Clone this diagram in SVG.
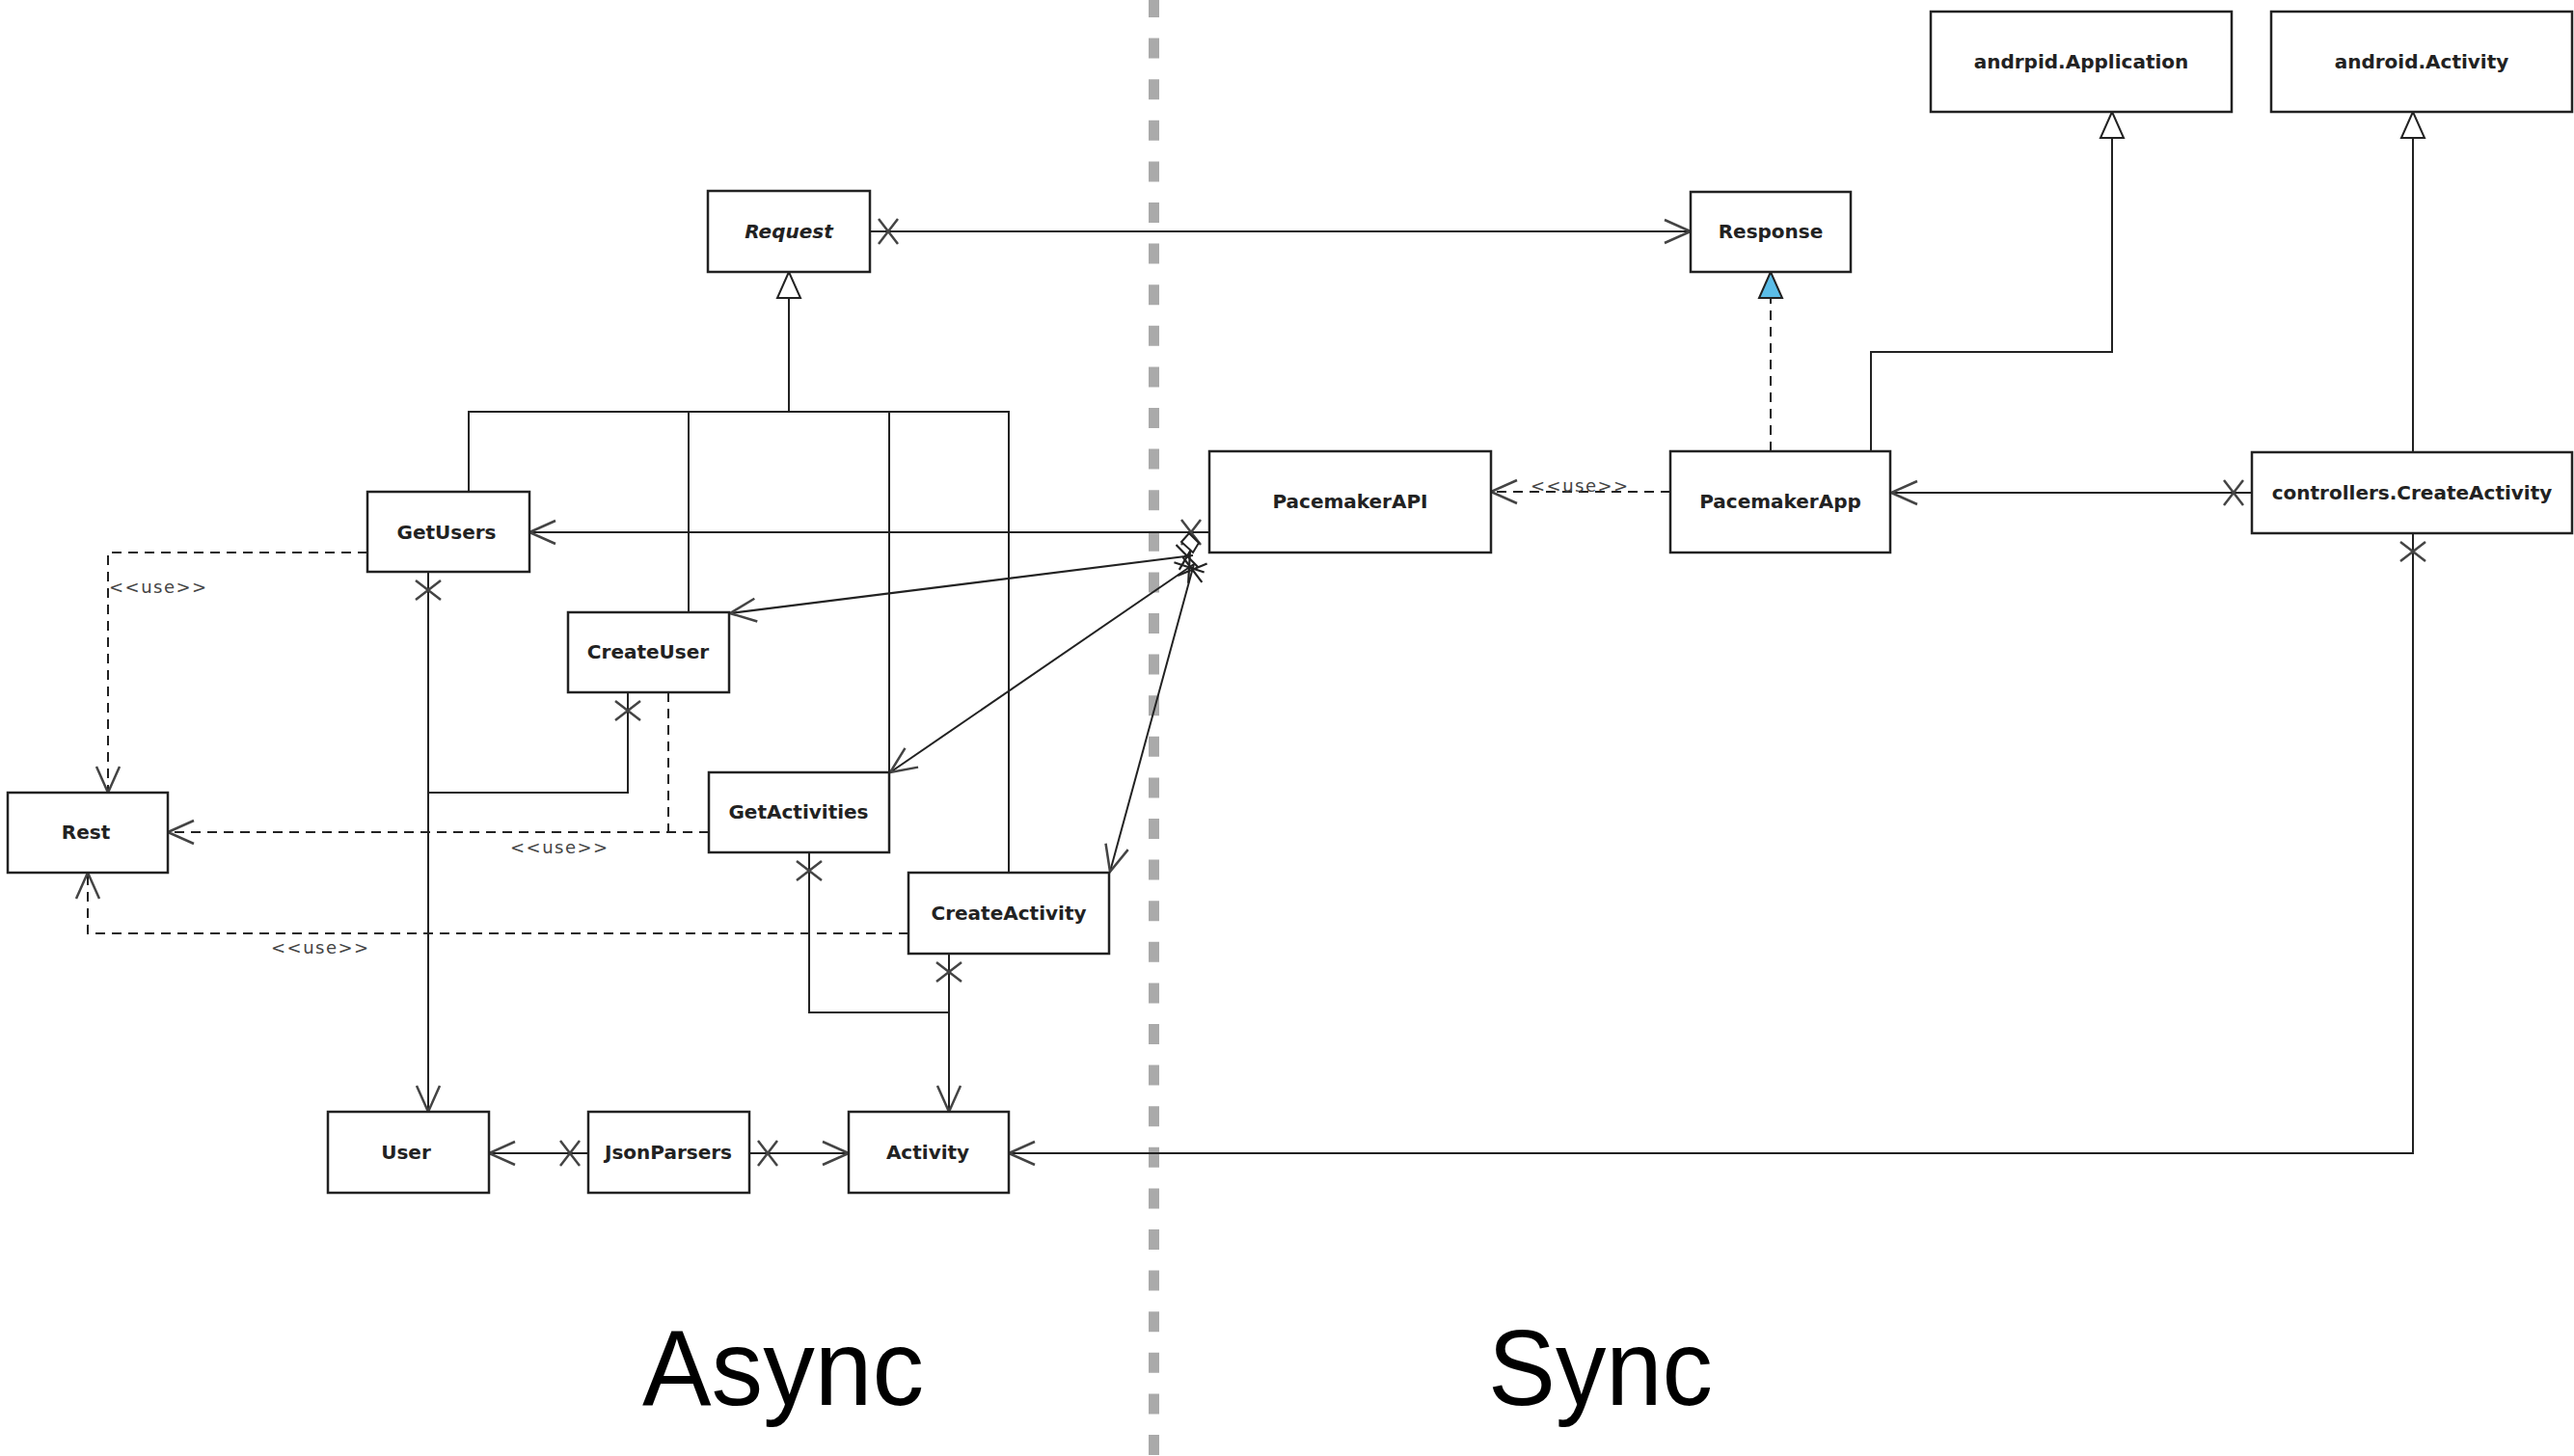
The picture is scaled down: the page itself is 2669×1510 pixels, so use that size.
<svg xmlns="http://www.w3.org/2000/svg" width="2669" height="1510" viewBox="0 0 2669 1510">
  <style>
    .box rect { fill: #ffffff; stroke: #222222; stroke-width: 2.5; }
    .box text { font-family: "DejaVu Sans", "Liberation Sans", sans-serif; font-weight: bold; font-size: 20px; fill: #222222; text-anchor: middle; dominant-baseline: central; }
    .line { fill: none; stroke: #222222; stroke-width: 2; }
    .dash { fill: none; stroke: #222222; stroke-width: 2; stroke-dasharray: 10 7; }
    .stereo { font-family: "DejaVu Sans", "Liberation Sans", sans-serif; font-size: 18px; letter-spacing: 1.5px; fill: #444444; dominant-baseline: central; }
    .big { font-family: "Liberation Sans", Arial, sans-serif; font-size: 112px; fill: #000000; }
  </style>
  <defs>
    <!-- open navigable arrowhead -->
    <marker id="open" viewBox="-30 -15 32 30" refX="0" refY="0" markerWidth="32" markerHeight="30" markerUnits="userSpaceOnUse" orient="auto">
      <path d="M-27,-12 L0,0 L-27,12" fill="none" stroke="#444444" stroke-width="2.5"/>
    </marker>
    <!-- hollow generalization triangle -->
    <marker id="gen" viewBox="-30 -15 32 30" refX="0" refY="0" markerWidth="32" markerHeight="30" markerUnits="userSpaceOnUse" orient="auto">
      <path d="M0,0 L-27,-12 L-27,12 Z" fill="#ffffff" stroke="#222222" stroke-width="2"/>
    </marker>
    <!-- realization triangle -->
    <marker id="real" viewBox="-30 -15 32 30" refX="0" refY="0" markerWidth="32" markerHeight="30" markerUnits="userSpaceOnUse" orient="auto">
      <path d="M0,0 L-27,-12 L-27,12 Z" fill="#5bbde8" stroke="#222222" stroke-width="2"/>
    </marker>
    <!-- non-navigable end cross -->
    <marker id="cross" viewBox="0 -15 32 30" refX="0" refY="0" markerWidth="32" markerHeight="30" markerUnits="userSpaceOnUse" orient="auto">
      <path d="M9,-13 L29,13 M9,13 L29,-13" fill="none" stroke="#444444" stroke-width="2.5"/>
    </marker>
    <!-- cross placed close to the shared hub -->
    <marker id="crossHub" viewBox="-15 -15 32 30" refX="0" refY="0" markerWidth="32" markerHeight="30" markerUnits="userSpaceOnUse" orient="auto">
      <path d="M-4,-13 L16,13 M-4,13 L16,-13" fill="none" stroke="#222222" stroke-width="2.2"/>
    </marker>
  </defs>

  <rect x="0" y="0" width="2669" height="1510" fill="#ffffff"/>

  <!-- async / sync divider -->
  <line x1="1196.5" y1="0" x2="1196.5" y2="1510" stroke="#aaaaaa" stroke-width="11" stroke-dasharray="21 21.6" stroke-dashoffset="3"/>

  <g id="connectors">
    <!-- generalizations to Request -->
    <path class="line" d="M486,510 V427 H1046 V905"/>
    <path class="line" d="M714,635 V427"/>
    <path class="line" d="M922,801 V427"/>
    <path class="line" d="M818,427 V282" marker-end="url(#gen)"/>

    <!-- Request to Response -->
    <path class="line" d="M902,240 H1753" marker-start="url(#cross)" marker-end="url(#open)"/>

    <!-- Response realized by PacemakerApp -->
    <path class="dash" d="M1836,468 V282" marker-end="url(#real)"/>

    <!-- PacemakerApp extends andrpid.Application -->
    <path class="line" d="M1940,468 V365 H2190 V116" marker-end="url(#gen)"/>
    <!-- controllers.CreateActivity extends android.Activity -->
    <path class="line" d="M2502,469 V116" marker-end="url(#gen)"/>

    <!-- PacemakerApp uses PacemakerAPI -->
    <path class="dash" d="M1732,510 H1546" marker-end="url(#open)"/>
    <text class="stereo" x="1587" y="503">&lt;&lt;use&gt;&gt;</text>

    <!-- controllers.CreateActivity associations -->
    <path class="line" d="M2335,511 H1961" marker-start="url(#cross)" marker-end="url(#open)"/>
    <path class="line" d="M2502,553 V1196 H1046" marker-start="url(#cross)" marker-end="url(#open)"/>

    <!-- PacemakerAPI to GetUsers -->
    <path class="line" d="M1254,552 H549" marker-start="url(#cross)" marker-end="url(#open)"/>

    <!-- PacemakerAPI hub to the other requests -->
    <path class="line" d="M1237,576 L757,636" marker-start="url(#crossHub)" marker-end="url(#open)"/>
    <path class="line" d="M1238,585 L923,801" marker-start="url(#crossHub)" marker-end="url(#open)"/>
    <path class="line" d="M1238,585 L1151,904" marker-start="url(#crossHub)" marker-end="url(#open)"/>
    <path d="M1233,553 L1243,563 L1237,573 L1225,562 Z" fill="#ffffff" stroke="#222222" stroke-width="2"/>

    <!-- requests to model classes -->
    <path class="line" d="M444,593 V1153" marker-start="url(#cross)" marker-end="url(#open)"/>
    <path class="line" d="M651,718 V822 H444" marker-start="url(#cross)"/>
    <path class="line" d="M839,884 V1050 H984" marker-start="url(#cross)"/>
    <path class="line" d="M984,989 V1153" marker-start="url(#cross)" marker-end="url(#open)"/>

    <!-- JsonParsers associations -->
    <path class="line" d="M610,1196 H507" marker-start="url(#cross)" marker-end="url(#open)"/>
    <path class="line" d="M777,1196 H880" marker-start="url(#cross)" marker-end="url(#open)"/>

    <!-- requests use Rest -->
    <path class="dash" d="M381,573 H112 V822" marker-end="url(#open)"/>
    <text class="stereo" x="113" y="608">&lt;&lt;use&gt;&gt;</text>
    <path class="dash" d="M693,718 V863"/>
    <path class="dash" d="M735,863 H174" marker-end="url(#open)"/>
    <text class="stereo" x="529" y="878">&lt;&lt;use&gt;&gt;</text>
    <path class="dash" d="M942,968 H91 V905" marker-end="url(#open)"/>
    <text class="stereo" x="281" y="982">&lt;&lt;use&gt;&gt;</text>
  </g>

  <g id="request" class="box"><rect x="734" y="198" width="168" height="84"/><text x="818" y="240" font-style="italic">Request</text></g>
  <g id="response" class="box"><rect x="1753" y="199" width="166" height="83"/><text x="1836" y="240">Response</text></g>
  <g id="andrpid-application" class="box"><rect x="2002" y="12" width="312" height="104"/><text x="2158" y="64">andrpid.Application</text></g>
  <g id="android-activity" class="box"><rect x="2355" y="12" width="312" height="104"/><text x="2511" y="64">android.Activity</text></g>
  <g id="pacemaker-api" class="box"><rect x="1254" y="468" width="292" height="105"/><text x="1400" y="520">PacemakerAPI</text></g>
  <g id="pacemaker-app" class="box"><rect x="1732" y="468" width="228" height="105"/><text x="1846" y="520">PacemakerApp</text></g>
  <g id="controllers-create-activity" class="box"><rect x="2335" y="469" width="332" height="84"/><text x="2501" y="511">controllers.CreateActivity</text></g>
  <g id="get-users" class="box"><rect x="381" y="510" width="168" height="83"/><text x="463" y="552">GetUsers</text></g>
  <g id="create-user" class="box"><rect x="589" y="635" width="167" height="83"/><text x="672" y="676">CreateUser</text></g>
  <g id="rest" class="box"><rect x="8" y="822" width="166" height="83"/><text x="89" y="863">Rest</text></g>
  <g id="get-activities" class="box"><rect x="735" y="801" width="187" height="83"/><text x="828" y="842">GetActivities</text></g>
  <g id="create-activity" class="box"><rect x="942" y="905" width="208" height="84"/><text x="1046" y="947">CreateActivity</text></g>
  <g id="user" class="box"><rect x="340" y="1153" width="167" height="84"/><text x="421" y="1195">User</text></g>
  <g id="json-parsers" class="box"><rect x="610" y="1153" width="167" height="84"/><text x="693" y="1195">JsonParsers</text></g>
  <g id="activity" class="box"><rect x="880" y="1153" width="166" height="84"/><text x="962" y="1195">Activity</text></g>

  <text class="big" x="666" y="1457" textLength="292" lengthAdjust="spacingAndGlyphs">Async</text>
  <text class="big" x="1543" y="1457" textLength="233" lengthAdjust="spacingAndGlyphs">Sync</text>
</svg>
